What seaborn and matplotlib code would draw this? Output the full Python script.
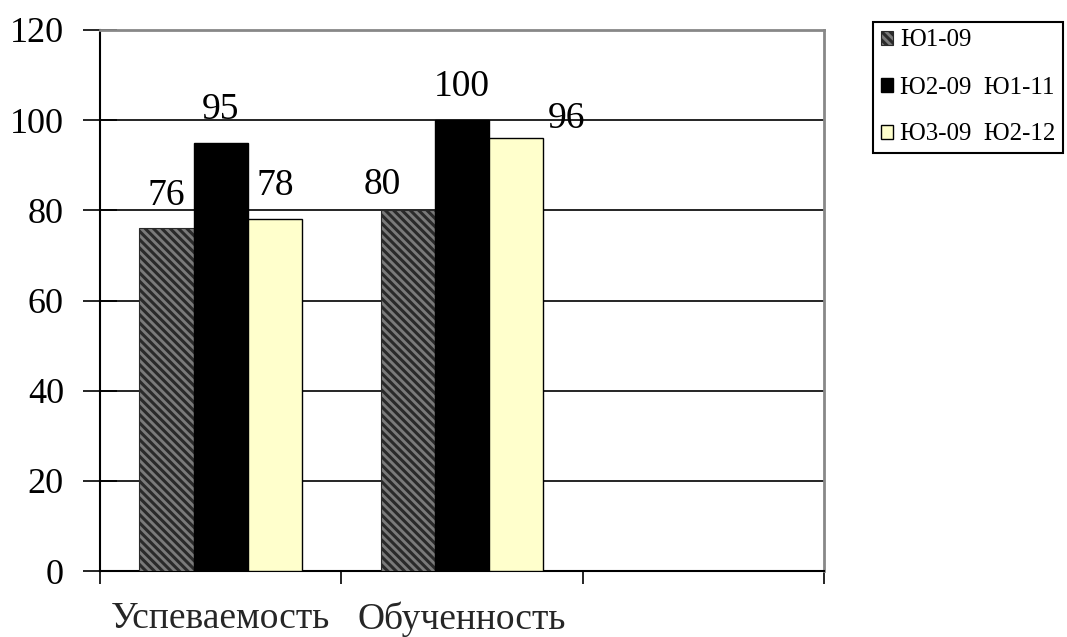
import matplotlib
matplotlib.use("Agg")
import matplotlib.pyplot as plt
import seaborn as sns
import pandas as pd

categories = ["Успеваемость", "Обученность", ""]
series = ["Ю1-09", "Ю2-09  Ю1-11", "Ю3-09  Ю2-12"]
values_s1 = [76, 80]
values_s2 = [95, 100]
values_s3 = [78, 96]
yticks = [0, 20, 40, 60, 80, 100, 120]

rows = []
for s, vals in zip(series, [values_s1, values_s2, values_s3]):
    for c, v in zip(categories[:2], vals):
        rows.append({"cat": c, "series": s, "value": v})
df = pd.DataFrame(rows)

sns.set_theme(style="white")
plt.rcParams["font.family"] = ["Liberation Serif", "DejaVu Serif"]
plt.rcParams["hatch.linewidth"] = 2.2
plt.rcParams["text.color"] = "black"

fig = plt.figure(figsize=(10.67, 6.37), dpi=100)
ax = fig.add_axes([100 / 1067, 1 - 571 / 637, 724 / 1067, 541 / 637])

palette = {series[0]: "#7a7a7a", series[1]: "#000000", series[2]: "#ffffcc"}
sns.barplot(data=df, x="cat", y="value", hue="series", order=categories,
            hue_order=series, palette=palette, width=0.675, ax=ax,
            saturation=1, legend=True, zorder=3)

# style bars
for i, cont in enumerate(ax.containers):
    for p in cont:
        p.set_edgecolor("#000000")
        p.set_linewidth(1.0)
        if i == 0:
            p.set_hatch("\\\\\\\\")
            p.set_edgecolor("#2a2a2a")
            p.set_linewidth(0.8)

# value labels (offsets in data units: dx, dy for text centre)
offsets = {
    (0, 0): (0.0, 7.3), (0, 1): (0.0, 7.2), (0, 2): (0.0, 7.4),
    (1, 0): (-0.105, 5.6), (1, 1): (0.0, 7.4), (1, 2): (0.207, 4.4),
}
for i, cont in enumerate(ax.containers):
    vals = [values_s1, values_s2, values_s3][i]
    for j, p in enumerate(cont):
        if j >= len(vals):
            continue
        dx, dy = offsets[(j, i)]
        x = p.get_x() + p.get_width() / 2 + dx
        ax.text(x, vals[j] + dy, str(vals[j]), ha="center", va="center",
                fontsize=27, color="black", zorder=5)

ax.set_xlim(-0.5, 2.5)
ax.set_ylim(0, 120)
ax.set_yticks(yticks)
ax.set_yticklabels([str(t) for t in yticks], fontsize=26)
ax.yaxis.grid(True, color="black", linewidth=1.2, zorder=0)
ax.xaxis.grid(False)
ax.set_axisbelow(True)

ax.set_xticks([-0.5, 0.5, 1.5, 2.5])
ax.set_xticklabels(["", "", "", ""])
ax.set_xticks([0, 1, 2], minor=True)
ax.set_xticklabels(categories, minor=True, fontsize=27)
ax.tick_params(axis="x", which="minor", bottom=True, length=0, pad=22)
ax.tick_params(axis="x", which="major", bottom=True, direction="out", length=9, width=1.2, color="black")
ax.tick_params(axis="y", left=True, direction="inout", length=24, width=1.2, color="black", pad=14)
ax.tick_params(axis="both", labelcolor="black")
ax.set_xlabel("")
ax.set_ylabel("")

for side in ["left", "bottom"]:
    ax.spines[side].set_color("black")
    ax.spines[side].set_linewidth(1.5)
for side in ["top", "right"]:
    ax.spines[side].set_color("#888888")
    ax.spines[side].set_linewidth(2)

labels = series
handles = [cont[0] for cont in ax.containers]
ax.legend_.remove()
leg = fig.legend(handles, labels, loc="upper left",
                 bbox_to_anchor=(873 / 1067, 1 - 22 / 637),
                 prop={"size": 18, "family": ["Liberation Serif"]},
                 frameon=True, fancybox=False, framealpha=1,
                 edgecolor="black", labelspacing=1.0,
                 handlelength=0.5, handleheight=0.5, handletextpad=0.3,
                 borderpad=0.3, borderaxespad=0, labelcolor="black")
leg.get_frame().set_linewidth(1.5)

fig.savefig("out.png", dpi=100)
